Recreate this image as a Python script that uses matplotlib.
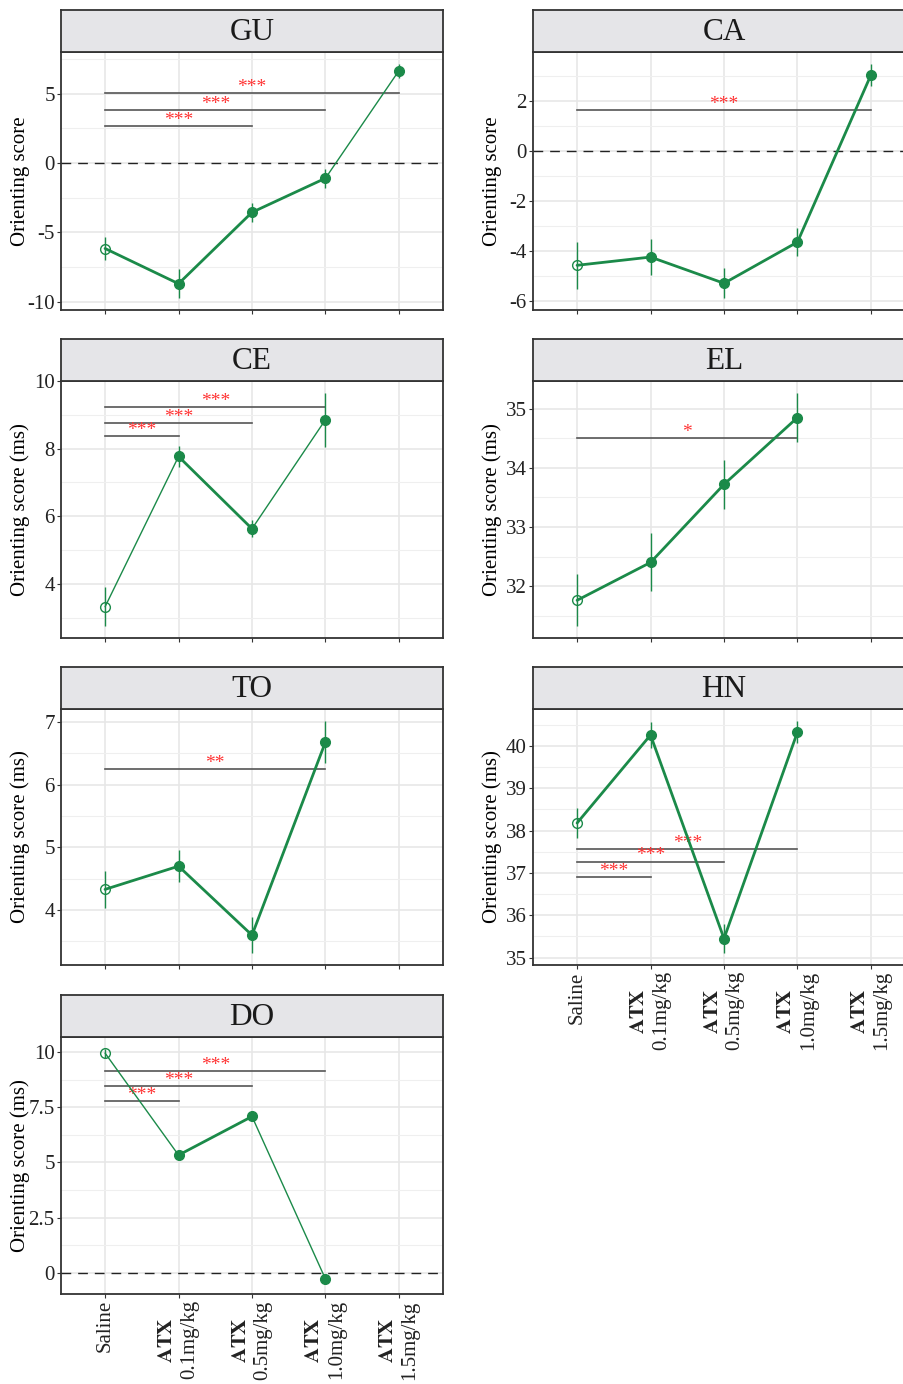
import matplotlib.pyplot as plt
import numpy as np
from matplotlib.ticker import MultipleLocator, FormatStrFormatter

plt.rcParams["font.family"] = ["Liberation Serif", "TeX Gyre Termes", "STIXGeneral", "DejaVu Serif"]
plt.rcParams["mathtext.fontset"] = "stix"
plt.rcParams["axes.unicode_minus"] = False

# treatment groups (x axis)
groups = ["Saline",
          "$\\mathbf{ATX}$\n0.1mg/kg",
          "$\\mathbf{ATX}$\n0.5mg/kg",
          "$\\mathbf{ATX}$\n1.0mg/kg",
          "$\\mathbf{ATX}$\n1.5mg/kg"]

# mean, standard error, bold segments between neighbours, comparison bars
gu_mean = [-6.16, -8.7, -3.55, -1.09, 6.67]
gu_se = [0.8, 1.05, 0.7, 0.7, 0.5]
gu_bold = [True, True, True, False]
gu_sig = [(0, 4, 5.07, "***"), (0, 3, 3.84, "***"), (0, 2, 2.68, "***")]

ca_mean = [-4.56, -4.23, -5.28, -3.63, 3.06]
ca_se = [0.93, 0.73, 0.6, 0.55, 0.45]
ca_bold = [True, True, True, True]
ca_sig = [(0, 4, 1.65, "***")]

ce_mean = [3.32, 7.77, 5.63, 8.86]
ce_se = [0.58, 0.3, 0.25, 0.8]
ce_bold = [False, True, False]
ce_sig = [(0, 3, 9.23, "***"), (0, 2, 8.76, "***"), (0, 1, 8.38, "***")]

el_mean = [31.76, 32.4, 33.72, 34.85]
el_se = [0.44, 0.49, 0.42, 0.42]
el_bold = [True, True, True]
el_sig = [(0, 3, 34.5, "*")]

to_mean = [4.33, 4.7, 3.6, 6.68]
to_se = [0.29, 0.25, 0.29, 0.34]
to_bold = [True, True, True]
to_sig = [(0, 3, 6.25, "**")]

hn_mean = [38.18, 40.26, 35.45, 40.33]
hn_se = [0.35, 0.3, 0.35, 0.27]
hn_bold = [True, True, True]
hn_sig = [(0, 3, 37.57, "***"), (0, 2, 37.27, "***"), (0, 1, 36.9, "***")]

do_mean = [9.95, 5.33, 7.08, -0.28]
do_se = [0.2, 0.15, 0.12, 0.15]
do_bold = [False, True, False]
do_sig = [(0, 3, 9.13, "***"), (0, 2, 8.45, "***"), (0, 1, 7.76, "***")]

panels = [
    dict(name="GU", ylabel="Orienting score", mean=gu_mean, se=gu_se, bold=gu_bold, sig=gu_sig, step=5),
    dict(name="CA", ylabel="Orienting score", mean=ca_mean, se=ca_se, bold=ca_bold, sig=ca_sig, step=2),
    dict(name="CE", ylabel="Orienting score (ms)", mean=ce_mean, se=ce_se, bold=ce_bold, sig=ce_sig, step=2),
    dict(name="EL", ylabel="Orienting score (ms)", mean=el_mean, se=el_se, bold=el_bold, sig=el_sig, step=1),
    dict(name="TO", ylabel="Orienting score (ms)", mean=to_mean, se=to_se, bold=to_bold, sig=to_sig, step=1),
    dict(name="HN", ylabel="Orienting score (ms)", mean=hn_mean, se=hn_se, bold=hn_bold, sig=hn_sig, step=1),
    dict(name="DO", ylabel="Orienting score (ms)", mean=do_mean, se=do_se, bold=do_bold, sig=do_sig, step=2.5),
]

GREEN = "#1b8a49"
BORDER = "#333333"
W, H = 904, 1384
col_left = [61, 533]
col_width = 382
row_top = [52, 381, 709, 1037]
row_bottom = [310, 638, 965, 1294]
strip_h = 42

fig = plt.figure(figsize=(W / 100, H / 100), dpi=100)


def draw_panel(p, col, row, show_x):
    l, t, b = col_left[col], row_top[row], row_bottom[row]
    ax = fig.add_axes([l / W, 1 - b / H, col_width / W, (b - t) / H])
    st = fig.add_axes([l / W, 1 - t / H, col_width / W, strip_h / H])

    mean = np.array(p["mean"])
    se = np.array(p["se"])
    x = np.arange(len(mean))

    # y range: data + error bars + comparison bars, 5% expansion
    vals = list(mean - se) + list(mean + se) + [s[2] for s in p["sig"]]
    lo, hi = min(vals), max(vals)
    pad = (hi - lo) * 0.05
    ax.set_ylim(lo - pad, hi + pad)
    ax.set_xlim(-0.6, len(groups) - 0.4)

    ax.set_facecolor("white")
    ax.yaxis.set_major_locator(MultipleLocator(p["step"]))
    ax.yaxis.set_minor_locator(MultipleLocator(p["step"] / 2))
    ax.yaxis.set_major_formatter(FormatStrFormatter("%g"))
    ax.set_xticks(range(len(groups)))
    ax.grid(True, which="major", color="#e6e6e6", lw=1.1, zorder=0)
    ax.grid(True, which="minor", axis="y", color="#efefef", lw=0.8, zorder=0)
    ax.set_axisbelow(True)
    for sp in ax.spines.values():
        sp.set_color(BORDER)
        sp.set_linewidth(1.3)
    ax.tick_params(which="major", length=3, width=0.8, color=BORDER,
                   labelsize=15, labelcolor="#222222", pad=1.5)
    ax.tick_params(which="minor", length=0)

    if lo < 0 < hi:
        ax.axhline(0, color="#222222", lw=1.0, ls=(0, (7, 5)), zorder=1)

    # comparison bars with stars
    for i, j, yv, lab in p["sig"]:
        ax.plot([i, j], [yv, yv], color="#555555", lw=1.2, zorder=2)
        ax.annotate(lab, xy=((i + j) / 2, yv), xytext=(0, 4), textcoords="offset points",
                    ha="center", va="center", color="#ff3333", fontsize=14, zorder=3)

    # mean line segments
    for k in range(len(mean) - 1):
        ax.plot(x[k:k + 2], mean[k:k + 2], color=GREEN,
                lw=2.0 if p["bold"][k] else 1.0, solid_capstyle="round", zorder=4)
    ax.vlines(x, mean - se, mean + se, color=GREEN, lw=1.0, zorder=4)
    ax.plot(x[:1], mean[:1], "o", ms=7, mfc="none", mec=GREEN, mew=1.0, zorder=5)
    ax.plot(x[1:], mean[1:], "o", ms=7, color=GREEN, zorder=5)

    ax.set_ylabel(p["ylabel"], fontsize=15)
    ax.yaxis.set_label_coords(-0.08, 0.5)
    if show_x:
        ax.set_xticklabels(groups, rotation=90, ha="center", va="top",
                           multialignment="center", fontsize=15)
    else:
        ax.set_xticklabels([])

    # strip header
    st.set_xticks([])
    st.set_yticks([])
    st.set_facecolor("#e5e5e8")
    for sp in st.spines.values():
        sp.set_color(BORDER)
        sp.set_linewidth(1.3)
    st.text(0.5, 0.46, p["name"], ha="center", va="center", fontsize=22.5,
            color="#1a1a1a", transform=st.transAxes)


layout = [(0, 0, False), (1, 0, False), (0, 1, False), (1, 1, False),
          (0, 2, False), (1, 2, True), (0, 3, True)]
for p, (c, r, sx) in zip(panels, layout):
    draw_panel(p, c, r, sx)

fig.savefig("out.png", dpi=100)
